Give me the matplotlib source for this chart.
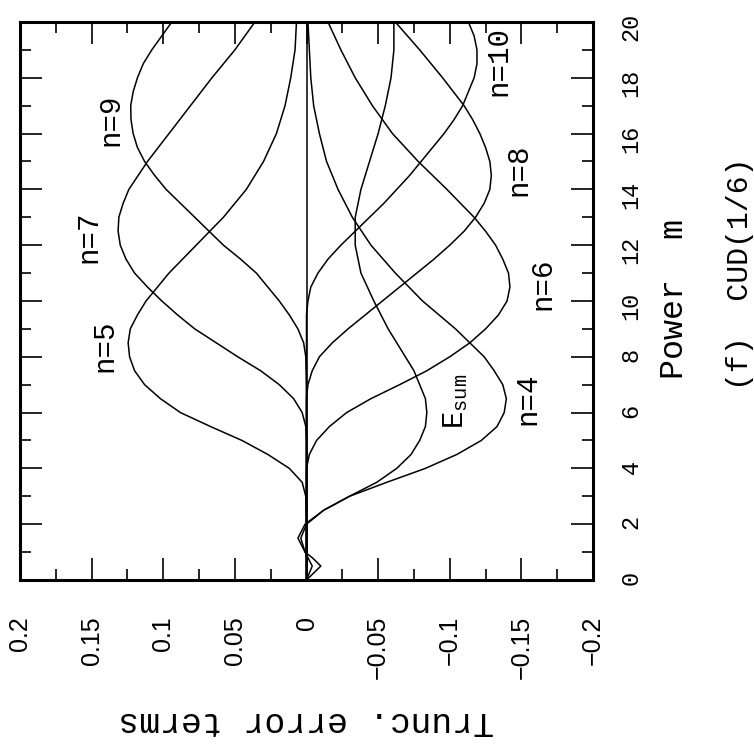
import matplotlib.pyplot as plt
from matplotlib.ticker import MultipleLocator

plt.rcParams['mathtext.fontset'] = 'custom'
plt.rcParams['mathtext.rm'] = 'Liberation Mono'

# ---- data: power m and truncation error term ----
m_n4 = [0, 0.5, 1, 1.5, 2, 2.5, 3, 3.5, 4, 4.5, 5, 5.5, 6, 6.5, 7, 7.5, 8, 9, 10, 11, 12, 13, 14, 15, 16, 17, 18, 19, 20]
e_n4 = [0, -0.004, 0.001, 0.004, 0.0, -0.012, -0.030, -0.056, -0.083, -0.105, -0.122, -0.133, -0.138, -0.1395, -0.137,
        -0.131, -0.124, -0.104, -0.081, -0.062, -0.045, -0.032, -0.022, -0.014, -0.009, -0.005, -0.003, -0.002, -0.001]

m_n5 = [0, 1, 2, 3, 3.5, 4, 4.5, 5, 5.5, 6, 6.5, 7, 7.5, 8, 8.5, 9, 9.5, 10, 11, 12, 13, 14, 15, 16, 17, 18, 19, 20]
e_n5 = [0, 0, 0, 0.0005, 0.003, 0.012, 0.027, 0.045, 0.067, 0.088, 0.102, 0.113, 0.120, 0.1235, 0.1245, 0.123,
        0.118, 0.112, 0.096, 0.077, 0.058, 0.042, 0.030, 0.021, 0.015, 0.011, 0.008, 0.007]

m_n6 = [0, 3, 4, 4.5, 5, 5.5, 6, 6.5, 7, 7.5, 8, 8.5, 9, 9.5, 10, 10.5, 11, 11.5, 12, 12.5, 13, 14, 15, 16, 17, 18, 19, 20]
e_n6 = [0, 0, 0, -0.002, -0.007, -0.016, -0.028, -0.045, -0.065, -0.084, -0.100, -0.114, -0.125, -0.134, -0.140,
        -0.142, -0.141, -0.137, -0.132, -0.125, -0.117, -0.098, -0.078, -0.060, -0.046, -0.034, -0.024, -0.015]

m_n7 = [0, 4, 5, 5.5, 6, 6.5, 7, 7.5, 8, 8.5, 9, 9.5, 10, 10.5, 11, 11.5, 12, 12.5, 13, 13.5, 14, 15, 16, 17, 18, 19, 20]
e_n7 = [0, 0, 0, 0.0005, 0.003, 0.009, 0.019, 0.032, 0.048, 0.063, 0.078, 0.090, 0.101, 0.111, 0.120, 0.126,
        0.130, 0.1315, 0.131, 0.128, 0.124, 0.111, 0.096, 0.081, 0.066, 0.050, 0.036]

m_n8 = [0, 6, 6.5, 7, 7.5, 8, 8.5, 9, 9.5, 10, 10.5, 11, 11.5, 12, 12.5, 13, 13.5, 14, 14.5, 15, 15.5, 16, 16.5, 17, 18, 19, 20]
e_n8 = [0, 0, 0, -0.001, -0.004, -0.009, -0.018, -0.029, -0.041, -0.053, -0.065, -0.077, -0.089, -0.100, -0.110,
        -0.118, -0.124, -0.128, -0.129, -0.128, -0.125, -0.121, -0.116, -0.110, -0.095, -0.079, -0.062]

m_n9 = [0, 7, 8, 8.5, 9, 9.5, 10, 10.5, 11, 11.5, 12, 12.5, 13, 13.5, 14, 14.5, 15, 15.5, 16, 16.5, 17, 17.5, 18, 18.5, 19, 19.5, 20]
e_n9 = [0, 0, 0.0005, 0.002, 0.006, 0.012, 0.019, 0.027, 0.035, 0.046, 0.058, 0.068, 0.078, 0.088, 0.098, 0.106,
        0.113, 0.118, 0.121, 0.1225, 0.1227, 0.121, 0.118, 0.114, 0.108, 0.101, 0.094]

m_n10 = [0, 9, 9.5, 10, 10.5, 11, 11.5, 12, 12.5, 13, 13.5, 14, 14.5, 15, 15.5, 16, 16.5, 17, 17.5, 18, 18.5, 19, 19.5, 20]
e_n10 = [0, 0, 0, -0.001, -0.003, -0.008, -0.015, -0.024, -0.034, -0.044, -0.054, -0.063, -0.072, -0.080, -0.088,
         -0.096, -0.103, -0.109, -0.113, -0.117, -0.119, -0.119, -0.117, -0.113]

m_sum = [0, 0.3, 0.5, 0.8, 1, 1.5, 2, 2.5, 3, 3.5, 4, 4.5, 5, 5.5, 6, 6.5, 7, 7.5, 8, 9, 10, 11, 12, 13, 14, 15, 16, 17, 18, 19, 20]
e_sum = [0, -0.006, -0.010, -0.004, 0.001, 0.006, 0.001, -0.012, -0.030, -0.049, -0.063, -0.073, -0.079, -0.083, -0.084,
         -0.083, -0.079, -0.075, -0.069, -0.057, -0.047, -0.038, -0.034, -0.034, -0.038, -0.044, -0.050, -0.055,
         -0.059, -0.061, -0.061]

m_zero = [0, 20]
e_zero = [0, 0]

val_ticks = [0.2, 0.15, 0.1, 0.05, 0, -0.05, -0.1, -0.15, -0.2]
val_labels = ['0.2', '0.15', '0.1', '0.05', '0', '\u22120.05', '\u22120.1', '\u22120.15', '\u22120.2']
m_ticks = [0, 2, 4, 6, 8, 10, 12, 14, 16, 18, 20]
m_labels = ['0', '2', '4', '6', '8', '10', '12', '14', '16', '18', '20']

# curve labels: text, error value, m
curve_labels = [('n=9', 0.137, 16.5), ('n=7', 0.152, 12.3), ('n=5', 0.141, 8.4),
                ('n=10', -0.134, 18.6), ('n=8', -0.148, 14.7), ('n=6', -0.165, 10.6),
                ('n=4', -0.154, 6.5), (r'$\mathrm{E}_{\mathrm{sum}}$', -0.104, 6.4)]

# ---- figure is drawn turned 90 degrees, as in the scan ----
fig = plt.figure(figsize=(7.54, 7.45), dpi=100)
ax = fig.add_axes([0.0265, 0.2215, 0.76, 0.749])

for m, e in [(m_zero, e_zero), (m_n4, e_n4), (m_n5, e_n5), (m_n6, e_n6), (m_n7, e_n7),
             (m_n8, e_n8), (m_n9, e_n9), (m_n10, e_n10), (m_sum, e_sum)]:
    ax.plot(e, m, color='black', lw=1.1)

ax.set_xlim(0.2, -0.2)
ax.set_ylim(0, 20)
ax.set_xticks(val_ticks, val_labels, fontfamily='Liberation Sans', fontsize=18)
ax.set_yticks(m_ticks, m_labels, fontfamily='Liberation Mono', fontsize=17)
ax.xaxis.set_minor_locator(MultipleLocator(0.025))
ax.yaxis.set_minor_locator(MultipleLocator(1))
ax.tick_params(which='both', direction='in', top=True, bottom=True, left=True, right=True, width=1.2)
ax.tick_params(which='major', length=16)
ax.tick_params(which='minor', length=8)
ax.tick_params(axis='x', labelrotation=90, pad=26)
ax.tick_params(axis='y', labelleft=False, labelright=True, labelrotation=90, pad=19)
for s in ax.spines.values():
    s.set_linewidth(2.2)

for txt, e, m in curve_labels:
    ax.text(e, m, txt, rotation=90, ha='center', va='center', fontsize=21, fontfamily='Liberation Mono')

fig.text(0.4065, 0.031, 'Trunc. error terms', rotation=180, ha='center', va='center',
         fontsize=25, fontfamily='Liberation Mono')
fig.text(0.895, 0.598, 'Power  m', rotation=90, ha='center', va='center',
         fontsize=24, fontfamily='Liberation Mono')
fig.text(0.982, 0.632, '(f)  CUD(1/6)', rotation=90, ha='center', va='center',
         fontsize=21.5, fontfamily='Liberation Mono')

fig.savefig('out.png', dpi=100)
